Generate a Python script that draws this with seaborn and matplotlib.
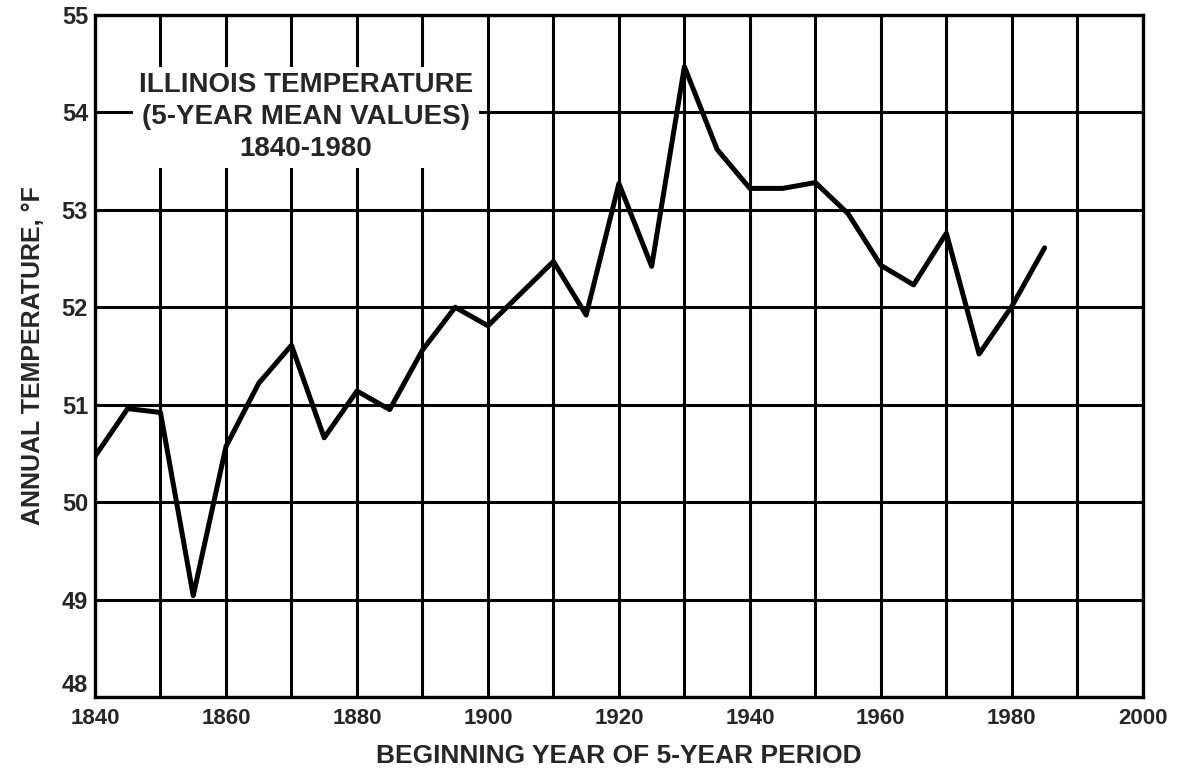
import matplotlib
matplotlib.use("Agg")
import matplotlib.pyplot as plt
import seaborn as sns
import pandas as pd

# Illinois 5-year mean annual temperature (°F), by beginning year of each period
years = [1840, 1845, 1850, 1855, 1860, 1865, 1870, 1875, 1880, 1885,
         1890, 1895, 1900, 1905, 1910, 1915, 1920, 1925, 1930, 1935,
         1940, 1945, 1950, 1955, 1960, 1965, 1970, 1975, 1980, 1985]
temps = [50.47, 50.96, 50.92, 49.04, 50.57, 51.22, 51.61, 50.66, 51.14, 50.95,
         51.56, 52.00, 51.81, 52.14, 52.47, 51.92, 53.27, 52.42, 54.47, 53.62,
         53.22, 53.22, 53.28, 52.96, 52.43, 52.23, 52.76, 51.52, 52.01, 52.61]

x_ticks = [1840, 1860, 1880, 1900, 1920, 1940, 1960, 1980, 2000]
x_grid = list(range(1840, 2001, 10))
y_ticks = [48, 49, 50, 51, 52, 53, 54, 55]

title_lines = ["ILLINOIS TEMPERATURE", "(5-YEAR MEAN VALUES)", "1840-1980"]
x_label = "BEGINNING YEAR OF 5-YEAR PERIOD"
y_label = "ANNUAL TEMPERATURE, °F"

sns.set_style("white")
plt.rcParams["font.family"] = ["Liberation Sans", "DejaVu Sans"]
plt.rcParams["font.weight"] = "bold"

df = pd.DataFrame({"year": years, "temp": temps})

fig = plt.figure(figsize=(11.8, 7.72), dpi=100)
ax = fig.add_axes([0.0805, 0.0972, 0.888, 0.8834])

sns.lineplot(data=df, x="year", y="temp", ax=ax, color="black",
             linewidth=3.6, zorder=4)

ax.set_xlim(1840, 2000)
ax.set_ylim(48, 55)
ax.set_xticks(x_grid)
ax.set_xticklabels([str(v) if v in x_ticks else "" for v in x_grid],
                   fontsize=16, fontweight="bold")
ax.set_yticks(y_ticks)
ax.set_yticklabels([str(v) for v in y_ticks], fontsize=17, fontweight="bold")
ax.tick_params(axis="both", length=0)
ax.tick_params(axis="x", pad=8)
ax.tick_params(axis="y", pad=5)

# the lowest y label sits just above the corner so it clears the first year
ax.get_yticklabels()[0].set_verticalalignment("bottom")

ax.grid(True, color="black", linewidth=2.2, zorder=1)
ax.set_axisbelow(True)
for side in ax.spines.values():
    side.set_color("black")
    side.set_linewidth(2.4)

ax.set_xlabel(x_label, fontsize=19, fontweight="bold", labelpad=11)
ax.set_ylabel(y_label, fontsize=18, fontweight="bold", labelpad=12)

ax.text(0.2013, 0.8497, "\n".join(title_lines), transform=ax.transAxes,
        ha="center", va="center", fontsize=20, fontweight="bold",
        linespacing=1.3, zorder=3,
        bbox=dict(boxstyle="square,pad=0.2", facecolor="white",
                  edgecolor="none"))

fig.savefig("out.png", dpi=100, facecolor="white")
